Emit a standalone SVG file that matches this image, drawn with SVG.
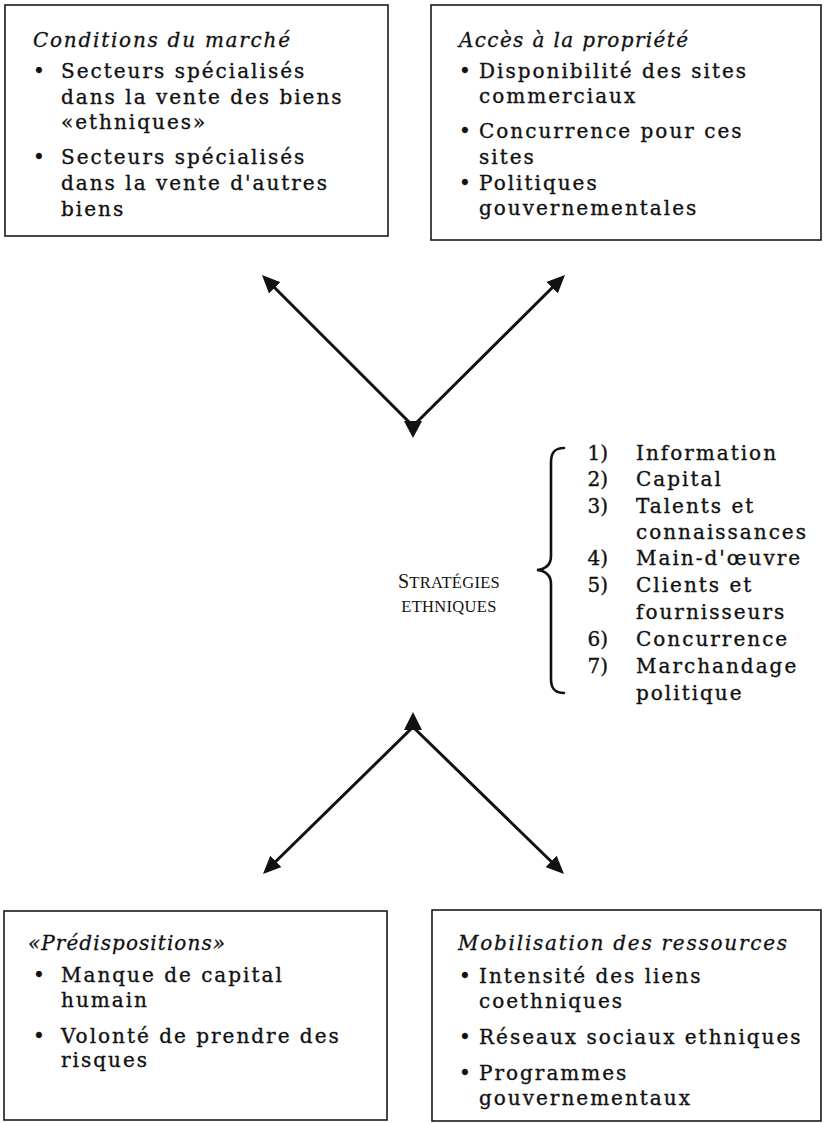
<svg xmlns="http://www.w3.org/2000/svg" width="824" height="1123" viewBox="0 0 824 1123">
<defs>
<style>
.box{fill:#fff;stroke:#1a1a1a;stroke-width:1.6}
.t{font-family:"DejaVu Serif","Liberation Serif",serif;font-size:20px;letter-spacing:2px;fill:#111;stroke:#111;stroke-width:0.35}
.h{font-family:"DejaVu Serif","Liberation Serif",serif;font-size:20px;font-style:italic;fill:#111;stroke:#111;stroke-width:0.3}
.n{font-family:"DejaVu Serif","Liberation Serif",serif;font-size:20px;fill:#111;stroke:#111;stroke-width:0.35;text-anchor:end}
.sc{font-family:"Liberation Serif",serif;font-size:16.5px;fill:#111;text-anchor:middle;letter-spacing:0.3px}
.ln{fill:none;stroke:#111;stroke-width:3}
.br{fill:none;stroke:#111;stroke-width:2.6;stroke-linecap:round}
</style>
<marker id="ah" viewBox="0 0 18 16" refX="12" refY="8" markerWidth="18" markerHeight="16" markerUnits="userSpaceOnUse" orient="auto">
<path d="M0,0 L18,8 L0,16 z" fill="#111"/>
</marker>
</defs>
<rect width="824" height="1123" fill="#fff"/>

<g id="conditions-marche">
<rect class="box" x="5" y="5" width="383" height="231"/>
<text class="h" x="33" y="47" textLength="257">Conditions du marché</text>
<text class="t" x="33" y="78">•</text>
<text class="t" x="61" y="78">Secteurs spécialisés</text>
<text class="t" x="61" y="104">dans la vente des biens</text>
<text class="t" x="61" y="129">«ethniques»</text>
<text class="t" x="33" y="164">•</text>
<text class="t" x="61" y="164">Secteurs spécialisés</text>
<text class="t" x="61" y="190">dans la vente d'autres</text>
<text class="t" x="61" y="216">biens</text>
</g>

<g id="acces-propriete">
<rect class="box" x="431" y="5" width="390" height="235"/>
<text class="h" x="459" y="47" textLength="229">Accès à la propriété</text>
<text class="t" x="459" y="78">•</text>
<text class="t" x="479" y="78">Disponibilité des sites</text>
<text class="t" x="479" y="103">commerciaux</text>
<text class="t" x="459" y="138">•</text>
<text class="t" x="479" y="138">Concurrence pour ces</text>
<text class="t" x="479" y="164">sites</text>
<text class="t" x="459" y="190">•</text>
<text class="t" x="479" y="190">Politiques</text>
<text class="t" x="479" y="215">gouvernementales</text>
</g>

<g id="strategies">
<text class="sc" x="449" y="588"><tspan font-size="20">S</tspan>TRATÉGIES</text>
<text class="sc" x="449" y="612">ETHNIQUES</text>
<path class="br" d="M564,448 C555,448 551,452 551,462 L551,556 C551,565 546,569 537,570 C546,571 551,575 551,584 L551,679 C551,689 555,693 564,693"/>
<text class="n" x="608" y="460">1)</text><text class="t" x="636" y="460">Information</text>
<text class="n" x="608" y="486">2)</text><text class="t" x="636" y="486">Capital</text>
<text class="n" x="608" y="513">3)</text><text class="t" x="636" y="513">Talents et</text>
<text class="t" x="636" y="539">connaissances</text>
<text class="n" x="608" y="565">4)</text><text class="t" x="636" y="565">Main-d'œuvre</text>
<text class="n" x="608" y="592">5)</text><text class="t" x="636" y="592">Clients et</text>
<text class="t" x="636" y="619">fournisseurs</text>
<text class="n" x="608" y="646">6)</text><text class="t" x="636" y="646">Concurrence</text>
<text class="n" x="608" y="673">7)</text><text class="t" x="636" y="673">Marchandage</text>
<text class="t" x="636" y="700">politique</text>
</g>

<g id="predispositions">
<rect class="box" x="4" y="911" width="383" height="209"/>
<text class="h" x="28" y="950" textLength="197">«Prédispositions»</text>
<text class="t" x="33" y="982">•</text>
<text class="t" x="61" y="982">Manque de capital</text>
<text class="t" x="61" y="1007">humain</text>
<text class="t" x="33" y="1043">•</text>
<text class="t" x="61" y="1043">Volonté de prendre des</text>
<text class="t" x="61" y="1067">risques</text>
</g>

<g id="mobilisation-ressources">
<rect class="box" x="432" y="910" width="389" height="211"/>
<text class="h" x="458" y="950" textLength="329">Mobilisation des ressources</text>
<text class="t" x="459" y="983">•</text>
<text class="t" x="479" y="983">Intensité des liens</text>
<text class="t" x="479" y="1008">coethniques</text>
<text class="t" x="459" y="1044">•</text>
<text class="t" x="479" y="1044">Réseaux sociaux ethniques</text>
<text class="t" x="459" y="1080">•</text>
<text class="t" x="479" y="1080">Programmes</text>
<text class="t" x="479" y="1105">gouvernementaux</text>
</g>

<g id="connectors">
<line class="ln" x1="413" y1="426" x2="266.2" y2="279.3" marker-end="url(#ah)"/>
<line class="ln" x1="413" y1="426" x2="560.7" y2="279.2" marker-end="url(#ah)"/>
<polygon points="404,421 422,421 413,438" fill="#111"/>
<line class="ln" x1="413" y1="727" x2="267.3" y2="869.8" marker-end="url(#ah)"/>
<line class="ln" x1="413" y1="727" x2="559.7" y2="869.8" marker-end="url(#ah)"/>
<polygon points="413,712 404,730 422,730" fill="#111"/>
</g>
</svg>
